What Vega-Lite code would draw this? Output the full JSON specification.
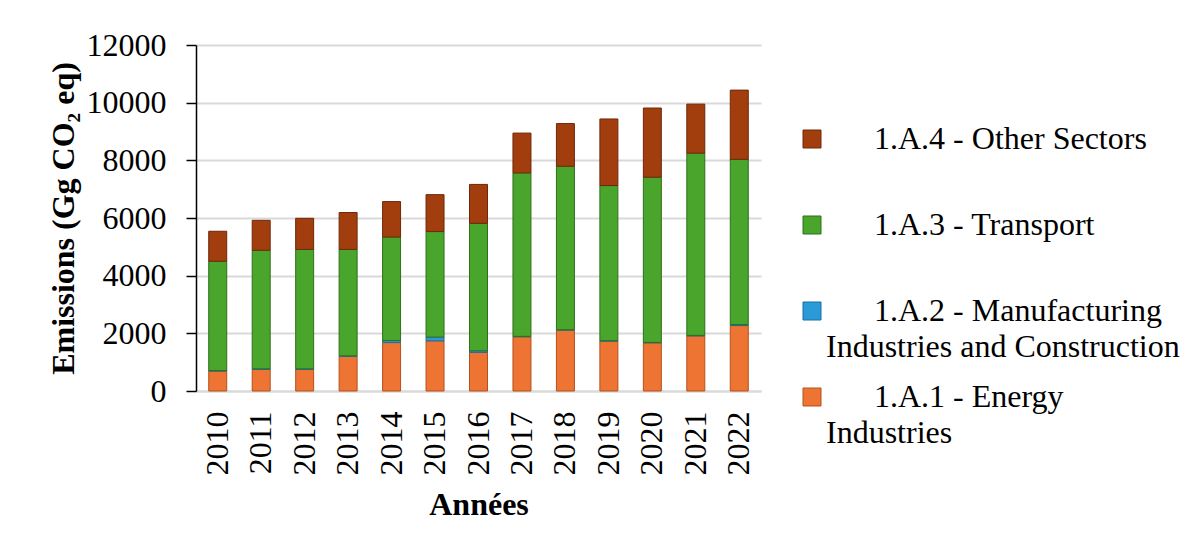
{
  "$schema": "https://vega.github.io/schema/vega-lite/v6.json",
  "width": 565,
  "height": 346,
  "autosize": {"type": "none"},
  "padding": {"left": 196, "top": 45, "right": 439, "bottom": 153},
  "background": "white",
  "config": {
    "font": "Liberation Serif",
    "view": {"stroke": null},
    "style": {"guide-label": {"lineHeight": 36}}
  },
  "data": {
    "values": [
      {"year": "2010", "sector": "1.A.1 - Energy Industries", "emissions": 690},
      {"year": "2010", "sector": "1.A.2 - Manufacturing Industries and Construction", "emissions": 20},
      {"year": "2010", "sector": "1.A.3 - Transport", "emissions": 3790},
      {"year": "2010", "sector": "1.A.4 - Other Sectors", "emissions": 1040},
      {"year": "2011", "sector": "1.A.1 - Energy Industries", "emissions": 750},
      {"year": "2011", "sector": "1.A.2 - Manufacturing Industries and Construction", "emissions": 20},
      {"year": "2011", "sector": "1.A.3 - Transport", "emissions": 4110},
      {"year": "2011", "sector": "1.A.4 - Other Sectors", "emissions": 1040},
      {"year": "2012", "sector": "1.A.1 - Energy Industries", "emissions": 750},
      {"year": "2012", "sector": "1.A.2 - Manufacturing Industries and Construction", "emissions": 20},
      {"year": "2012", "sector": "1.A.3 - Transport", "emissions": 4140},
      {"year": "2012", "sector": "1.A.4 - Other Sectors", "emissions": 1080},
      {"year": "2013", "sector": "1.A.1 - Energy Industries", "emissions": 1200},
      {"year": "2013", "sector": "1.A.2 - Manufacturing Industries and Construction", "emissions": 20},
      {"year": "2013", "sector": "1.A.3 - Transport", "emissions": 3690},
      {"year": "2013", "sector": "1.A.4 - Other Sectors", "emissions": 1280},
      {"year": "2014", "sector": "1.A.1 - Energy Industries", "emissions": 1680},
      {"year": "2014", "sector": "1.A.2 - Manufacturing Industries and Construction", "emissions": 70},
      {"year": "2014", "sector": "1.A.3 - Transport", "emissions": 3590},
      {"year": "2014", "sector": "1.A.4 - Other Sectors", "emissions": 1230},
      {"year": "2015", "sector": "1.A.1 - Energy Industries", "emissions": 1740},
      {"year": "2015", "sector": "1.A.2 - Manufacturing Industries and Construction", "emissions": 130},
      {"year": "2015", "sector": "1.A.3 - Transport", "emissions": 3660},
      {"year": "2015", "sector": "1.A.4 - Other Sectors", "emissions": 1280},
      {"year": "2016", "sector": "1.A.1 - Energy Industries", "emissions": 1340},
      {"year": "2016", "sector": "1.A.2 - Manufacturing Industries and Construction", "emissions": 55},
      {"year": "2016", "sector": "1.A.3 - Transport", "emissions": 4420},
      {"year": "2016", "sector": "1.A.4 - Other Sectors", "emissions": 1350},
      {"year": "2017", "sector": "1.A.1 - Energy Industries", "emissions": 1880},
      {"year": "2017", "sector": "1.A.2 - Manufacturing Industries and Construction", "emissions": 15},
      {"year": "2017", "sector": "1.A.3 - Transport", "emissions": 5670},
      {"year": "2017", "sector": "1.A.4 - Other Sectors", "emissions": 1380},
      {"year": "2018", "sector": "1.A.1 - Energy Industries", "emissions": 2110},
      {"year": "2018", "sector": "1.A.2 - Manufacturing Industries and Construction", "emissions": 15},
      {"year": "2018", "sector": "1.A.3 - Transport", "emissions": 5670},
      {"year": "2018", "sector": "1.A.4 - Other Sectors", "emissions": 1480},
      {"year": "2019", "sector": "1.A.1 - Energy Industries", "emissions": 1730},
      {"year": "2019", "sector": "1.A.2 - Manufacturing Industries and Construction", "emissions": 15},
      {"year": "2019", "sector": "1.A.3 - Transport", "emissions": 5380},
      {"year": "2019", "sector": "1.A.4 - Other Sectors", "emissions": 2310},
      {"year": "2020", "sector": "1.A.1 - Energy Industries", "emissions": 1670},
      {"year": "2020", "sector": "1.A.2 - Manufacturing Industries and Construction", "emissions": 15},
      {"year": "2020", "sector": "1.A.3 - Transport", "emissions": 5730},
      {"year": "2020", "sector": "1.A.4 - Other Sectors", "emissions": 2400},
      {"year": "2021", "sector": "1.A.1 - Energy Industries", "emissions": 1910},
      {"year": "2021", "sector": "1.A.2 - Manufacturing Industries and Construction", "emissions": 20},
      {"year": "2021", "sector": "1.A.3 - Transport", "emissions": 6320},
      {"year": "2021", "sector": "1.A.4 - Other Sectors", "emissions": 1700},
      {"year": "2022", "sector": "1.A.1 - Energy Industries", "emissions": 2270},
      {"year": "2022", "sector": "1.A.2 - Manufacturing Industries and Construction", "emissions": 35},
      {"year": "2022", "sector": "1.A.3 - Transport", "emissions": 5730},
      {"year": "2022", "sector": "1.A.4 - Other Sectors", "emissions": 2400}
    ]
  },
  "mark": {"type": "bar", "strokeWidth": 1},
  "encoding": {
    "x": {
      "field": "year",
      "type": "ordinal",
      "scale": {"paddingInner": 0.586, "paddingOuter": 0.293},
      "axis": {
        "title": "Années",
        "titleFont": "Liberation Serif",
        "titleFontSize": 32,
        "titleFontWeight": "bold",
        "titleColor": "black",
        "titlePadding": 14,
        "labelFont": "Liberation Serif",
        "labelFontSize": 32,
        "labelColor": "black",
        "labelAngle": -90,
        "labelAlign": "right",
        "labelBaseline": "middle",
        "labelPadding": 20,
        "ticks": false,
        "domainColor": "#d9d9d9",
        "domainWidth": 2
      }
    },
    "y": {
      "field": "emissions",
      "type": "quantitative",
      "stack": "zero",
      "scale": {"domain": [0, 12000]},
      "axis": {
        "title": "Emissions (Gg CO₂ eq)",
        "titleFont": "Liberation Serif",
        "titleFontSize": 32,
        "titleFontWeight": "bold",
        "titleColor": "black",
        "titlePadding": 6,
        "values": [0, 2000, 4000, 6000, 8000, 10000, 12000],
        "format": "d",
        "labelFont": "Liberation Serif",
        "labelFontSize": 32,
        "labelColor": "black",
        "labelPadding": 20,
        "tickSize": 10,
        "tickColor": "black",
        "tickWidth": 1.5,
        "domainColor": "black",
        "domainWidth": 1.5,
        "grid": true,
        "gridColor": "#d9d9d9",
        "gridWidth": 2
      }
    },
    "color": {
      "field": "sector",
      "type": "nominal",
      "scale": {
        "domain": ["1.A.4 - Other Sectors", "1.A.3 - Transport", "1.A.2 - Manufacturing Industries and Construction", "1.A.1 - Energy Industries"],
        "range": ["#A23E0E", "#4AA52C", "#2A9AD8", "#EE7433"]
      },
      "legend": {
        "orient": "none",
        "legendX": 600,
        "legendY": 78,
        "title": null,
        "symbolType": "square",
        "symbolSize": 324,
        "symbolStrokeWidth": 1,
        "labelFont": "Liberation Serif",
        "labelFontSize": 32,
        "labelColor": "black",
        "labelLimit": 1000,
        "labelOffset": -2,
        "rowPadding": 18,
        "gridAlign": "all",
        "labelExpr": "datum.label == '1.A.4 - Other Sectors' ? '\u200b\u2003\u20021.A.4 - Other Sectors' : datum.label == '1.A.3 - Transport' ? '\u200b\u2003\u20021.A.3 - Transport' : datum.label == '1.A.2 - Manufacturing Industries and Construction' ? ['\u200b\u2003\u20021.A.2 - Manufacturing', 'Industries and Construction'] : ['\u200b\u2003\u20021.A.1 - Energy', 'Industries']"
      }
    },
    "stroke": {
      "field": "sector",
      "type": "nominal",
      "scale": {
        "domain": ["1.A.4 - Other Sectors", "1.A.3 - Transport", "1.A.2 - Manufacturing Industries and Construction", "1.A.1 - Energy Industries"],
        "range": ["#6E2808", "#2E7018", "#1B6E9E", "#B5501C"]
      },
      "legend": null
    },
    "order": {"field": "sector", "sort": "ascending"}
  }
}
